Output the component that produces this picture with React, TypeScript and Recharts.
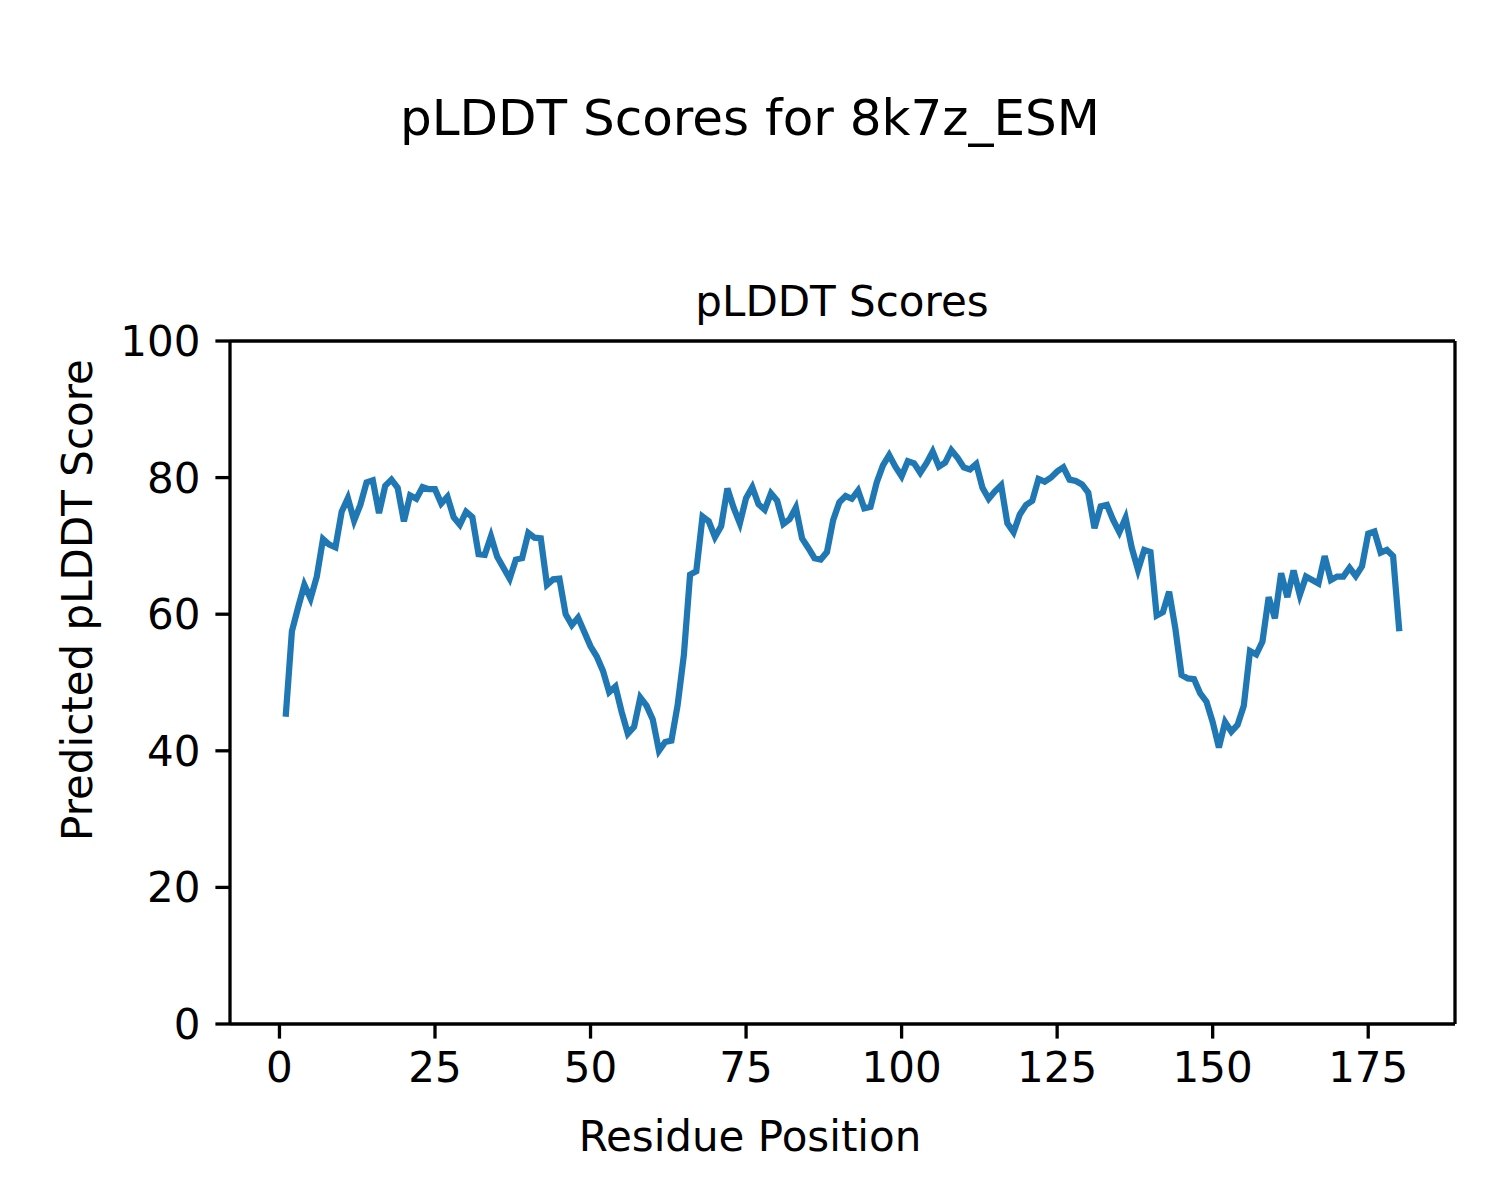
import React from "react";
import { LineChart, Line, XAxis, YAxis, ReferenceLine } from "recharts";

// pLDDT per residue (residues 1..180)
const scores = [
  45, 57.5, 61, 64.3, 62.3, 65.5, 71, 70.2, 69.8, 75,
  77, 73.7, 76, 79.3, 79.6, 74.8, 78.8, 79.7, 78.5, 73.6,
  77.4, 76.9, 78.6, 78.3, 78.3, 76.2, 77.2, 74.2, 73.1, 75,
  74.2, 68.8, 68.7, 71.4, 68.4, 66.8, 65.2, 68, 68.2, 71.9,
  71.2, 71.1, 64.3, 65.1, 65.2, 60, 58.4, 59.5, 57.4, 55.3,
  53.8, 51.7, 48.6, 49.4, 45.7, 42.5, 43.5, 47.8, 46.6, 44.6,
  40, 41.3, 41.5, 46.7, 54, 65.8, 66.3, 74.3, 73.6, 71.3,
  72.9, 78.4, 75.6, 73.3, 77, 78.6, 76.1, 75.3, 77.7, 76.6,
  73.2, 73.9, 75.6, 71.1, 69.7, 68.2, 68, 69.1, 73.8, 76.4,
  77.3, 76.9, 78.1, 75.5, 75.7, 79.3, 81.8, 83.3, 81.6, 80.2,
  82.4, 82.1, 80.7, 82.1, 83.8, 81.6, 82.2, 84, 82.9, 81.5,
  81.2, 82, 78.5, 76.9, 78, 78.9, 73.3, 72, 74.6, 76,
  76.6, 79.8, 79.4, 80, 80.9, 81.5, 79.7, 79.5, 79, 77.8,
  72.6, 75.8, 76, 73.8, 72, 74.1, 69.7, 66.5, 69.4, 69.1,
  59.8, 60.3, 63.3, 57.9, 51.1, 50.6, 50.5, 48.4, 47.2, 44.2,
  40.5, 44.2, 42.8, 43.8, 46.6, 54.6, 54.1, 56, 62.5, 59.4,
  66, 62.5, 66.4, 62.8, 65.5, 65, 64.5, 68.5, 65, 65.5,
  65.5, 66.8, 65.6, 67, 71.8, 72.1, 69, 69.4, 68.5, 57.5,
];
const xTicks = [0, 25, 50, 75, 100, 125, 150, 175];
const yTicks = [0, 20, 40, 60, 80, 100];

const data = scores.map((s, i) => ({ pos: i + 1, score: s }));

// matplotlib's 5% margin on the x range
const xPad = (scores.length - 1) * 0.05;
const xMin = 1 - xPad;
const xMax = scores.length + xPad;

const font = "'DejaVu Sans', sans-serif";
const tickStyle = { fontSize: 42, fill: "#000", fontFamily: font };

export default function App() {
  return (
    <div style={{ position: "absolute", left: 0, top: 0, width: 1500, height: 1200, background: "#fff" }}>
      <LineChart
        width={1500}
        height={1200}
        data={data}
        margin={{ top: 341, right: 45, bottom: 0, left: 100 }}
      >
        <XAxis
          dataKey="pos"
          type="number"
          domain={[xMin, xMax]}
          ticks={xTicks}
          allowDataOverflow
          height={176}
          tick={tickStyle}
          tickSize={14.6}
          tickMargin={14}
          axisLine={{ stroke: "#000", strokeWidth: 3.3 }}
          tickLine={{ stroke: "#000", strokeWidth: 3.3 }}
        />
        <YAxis
          type="number"
          domain={[0, 100]}
          ticks={yTicks}
          width={130}
          tick={tickStyle}
          tickSize={14.6}
          tickMargin={15}
          axisLine={{ stroke: "#000", strokeWidth: 3.3 }}
          tickLine={{ stroke: "#000", strokeWidth: 3.3 }}
        />
        <ReferenceLine y={100} stroke="#000" strokeWidth={3.3} />
        <ReferenceLine x={xMax} stroke="#000" strokeWidth={3.3} />
        <Line
          dataKey="score"
          type="linear"
          stroke="#1f77b4"
          strokeWidth={6.25}
          dot={false}
          isAnimationActive={false}
        />
      </LineChart>
      <svg
        width={1500}
        height={1200}
        style={{ position: "absolute", left: 0, top: 0, pointerEvents: "none" }}
        fontFamily={font}
      >
        <text x={750} y={135} fontSize={50} textAnchor="middle" fill="#000">
          pLDDT Scores for 8k7z_ESM
        </text>
        <text x={842} y={316} fontSize={42} textAnchor="middle" fill="#000">
          pLDDT Scores
        </text>
        <text x={750} y={1151} fontSize={42} textAnchor="middle" fill="#000">
          Residue Position
        </text>
        <text
          x={92}
          y={600}
          fontSize={42}
          textAnchor="middle"
          fill="#000"
          transform="rotate(-90 92 600)"
        >
          Predicted pLDDT Score
        </text>
      </svg>
    </div>
  );
}
